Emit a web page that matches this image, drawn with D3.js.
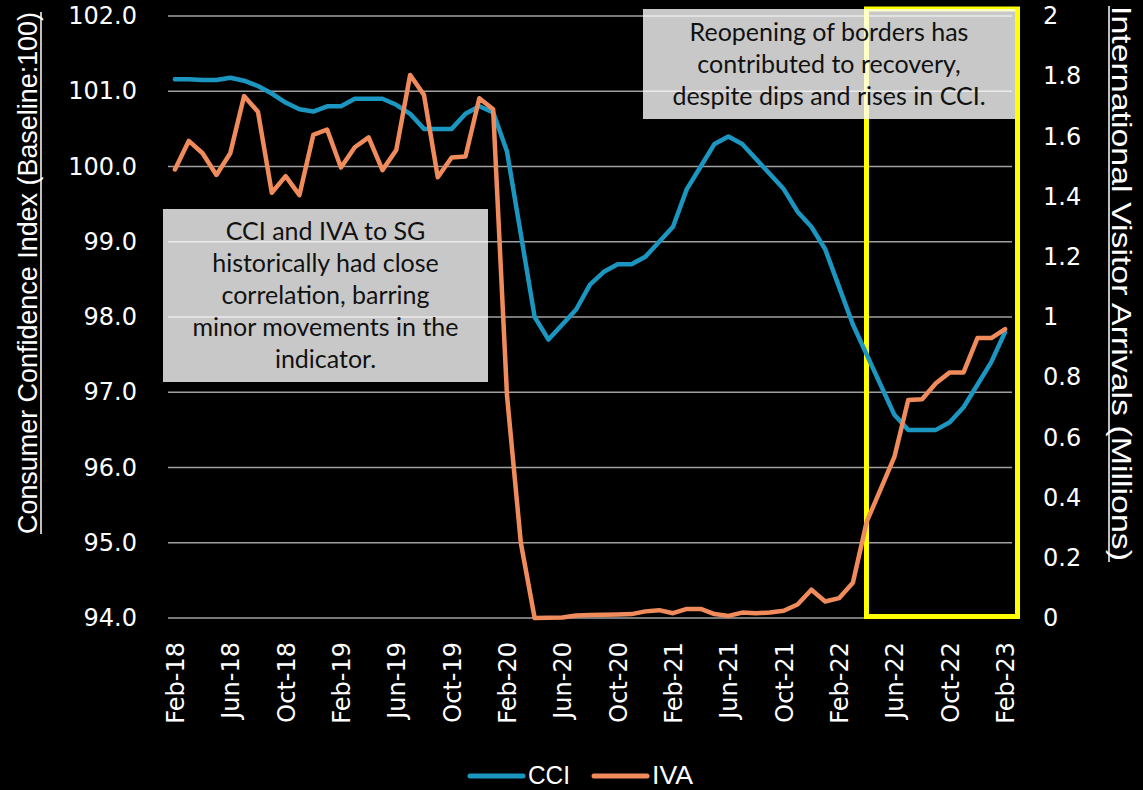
<!DOCTYPE html>
<html>
<head>
<meta charset="utf-8">
<script src="https://cdn.jsdelivr.net/npm/d3@7"></script>
<style>
  body { margin: 0; background: #000; }
  svg { display: block; }
</style>
</head>
<body>
<svg id="chart" width="1143" height="790"></svg>
<script>
// months Feb-18 .. Feb-23, one point per month
var months = d3.timeMonth.range(new Date(2018, 1, 1), new Date(2023, 2, 1));
var fmt_month = d3.timeFormat('%b-%y');
var month_labels = months.map(fmt_month);

// Consumer Confidence Index (left axis)
var cci = [101.16, 101.16, 101.15, 101.15, 101.18, 101.14, 101.07, 100.97, 100.85, 100.76,
           100.73, 100.80, 100.80, 100.90, 100.90, 100.90, 100.82, 100.70, 100.50, 100.50,
           100.50, 100.70, 100.80, 100.72, 100.20, 99.10, 98.00, 97.70, 97.90, 98.10,
           98.43, 98.60, 98.70, 98.70, 98.80, 99.00, 99.20, 99.70, 100.00, 100.30,
           100.40, 100.30, 100.10, 99.90, 99.70, 99.40, 99.20, 98.90, 98.40, 97.90,
           97.50, 97.10, 96.70, 96.50, 96.50, 96.50, 96.60, 96.80, 97.10, 97.40,
           97.80];

// International Visitor Arrivals, millions (right axis)
var iva = [1.490, 1.585, 1.544, 1.472, 1.544, 1.734, 1.682, 1.413, 1.468, 1.405,
           1.605, 1.623, 1.497, 1.564, 1.597, 1.488, 1.555, 1.804, 1.738, 1.464,
           1.530, 1.533, 1.727, 1.690, 0.740, 0.250, 0.000, 0.001, 0.002, 0.008,
           0.010, 0.011, 0.012, 0.013, 0.022, 0.026, 0.016, 0.030, 0.030, 0.013,
           0.007, 0.018, 0.016, 0.018, 0.024, 0.045, 0.094, 0.055, 0.066, 0.117,
           0.320, 0.427, 0.535, 0.724, 0.727, 0.780, 0.816, 0.816, 0.930, 0.930,
           0.960];

var left_ticks = [94, 95, 96, 97, 98, 99, 100, 101, 102];
var right_ticks = [0, 0.2, 0.4, 0.6, 0.8, 1, 1.2, 1.4, 1.6, 1.8, 2];
var x_tick_labels = month_labels.filter(function(d, i) { return i % 4 == 0; });

var note_left = ['CCI and IVA to SG', 'historically had close', 'correlation, barring',
                 'minor movements in the', 'indicator.'];
var note_right = ['Reopening of borders has', 'contributed to recovery,',
                  'despite dips and rises in CCI.'];

var CCI_COLOR = '#1b96c0';
var IVA_COLOR = '#f08b5c';

var svg = d3.select('#chart');
svg.append('rect').attr('width', 1143).attr('height', 790).attr('fill', '#000');

var x = d3.scalePoint().domain(month_labels).range([168, 1012]).padding(0.5);
var y_left = d3.scaleLinear().domain([94, 102]).range([618, 16]);
var y_right = d3.scaleLinear().domain([0, 2]).range([618, 16]);

// gridlines
svg.append('g').selectAll('line')
    .data(left_ticks)
    .enter().append('line')
    .attr('x1', 168).attr('x2', 1012)
    .attr('y1', function(d) { return y_left(d); })
    .attr('y2', function(d) { return y_left(d); })
    .attr('stroke', '#a0a0a0')
    .attr('stroke-width', 1.5);

// left axis
var left_axis = svg.append('g')
    .attr('transform', 'translate(140,0)')
    .call(d3.axisLeft(y_left).tickValues(left_ticks).tickSize(0).tickPadding(3).tickFormat(d3.format('.1f')));
left_axis.select('.domain').remove();
left_axis.selectAll('text')
    .attr('fill', '#fff')
    .style('font-family', 'DejaVu Sans')
    .style('font-size', '24px');

// right axis
var right_axis = svg.append('g')
    .attr('transform', 'translate(1040,0)')
    .call(d3.axisRight(y_right).tickValues(right_ticks).tickSize(0).tickPadding(3).tickFormat(d3.format('~g')));
right_axis.select('.domain').remove();
right_axis.selectAll('text')
    .attr('fill', '#fff')
    .style('font-family', 'DejaVu Sans')
    .style('font-size', '24px');

// bottom axis
var bottom_axis = svg.append('g')
    .attr('transform', 'translate(0,618)')
    .call(d3.axisBottom(x).tickValues(x_tick_labels).tickSize(0));
bottom_axis.select('.domain').remove();
bottom_axis.selectAll('text')
    .attr('fill', '#fff')
    .style('font-family', 'DejaVu Sans')
    .style('font-size', '24px')
    .attr('text-anchor', 'end')
    .attr('transform', 'rotate(-90)')
    .attr('x', -24)
    .attr('y', 0)
    .attr('dy', '0.35em');

// axis titles
var left_title = svg.append('g').attr('transform', 'translate(37,534) rotate(-90)');
left_title.append('text')
    .attr('x', 0).attr('y', 0)
    .attr('textLength', 522)
    .attr('lengthAdjust', 'spacingAndGlyphs')
    .attr('fill', '#fff')
    .style('font-family', 'Liberation Sans Narrow, Liberation Sans, sans-serif')
    .style('font-size', '27px')
    .text('Consumer Confidence Index (Baseline:100)');
left_title.append('line')
    .attr('x1', 0).attr('x2', 522).attr('y1', 4).attr('y2', 4)
    .attr('stroke', '#fff').attr('stroke-width', 1.5);

var right_title = svg.append('g').attr('transform', 'translate(1112,6) rotate(90)');
right_title.append('text')
    .attr('x', 0).attr('y', 0)
    .attr('textLength', 555)
    .attr('lengthAdjust', 'spacingAndGlyphs')
    .attr('fill', '#fff')
    .style('font-family', 'Liberation Sans Narrow, Liberation Sans, sans-serif')
    .style('font-size', '28px')
    .text('International Visitor Arrivals (Millions)');
right_title.append('line')
    .attr('x1', 0).attr('x2', 556).attr('y1', 3).attr('y2', 3)
    .attr('stroke', '#fff').attr('stroke-width', 1.5);

// highlight box
svg.append('rect')
    .attr('x', 866.5).attr('y', 9)
    .attr('width', 151).attr('height', 607.5)
    .attr('fill', 'none')
    .attr('stroke', '#ffff00')
    .attr('stroke-width', 5);

// lines
var line_cci = d3.line()
    .x(function(d, i) { return x(month_labels[i]); })
    .y(function(d) { return y_left(d); });
var line_iva = d3.line()
    .x(function(d, i) { return x(month_labels[i]); })
    .y(function(d) { return y_right(d); });

svg.append('path')
    .datum(cci)
    .attr('d', line_cci)
    .attr('fill', 'none')
    .attr('stroke', CCI_COLOR)
    .attr('stroke-width', 4.5)
    .attr('stroke-linejoin', 'round')
    .attr('stroke-linecap', 'round');

svg.append('path')
    .datum(iva)
    .attr('d', line_iva)
    .attr('fill', 'none')
    .attr('stroke', IVA_COLOR)
    .attr('stroke-width', 4.5)
    .attr('stroke-linejoin', 'round')
    .attr('stroke-linecap', 'round');

// annotation boxes
var add_note = function(lines, bx, by, bw, bh, first_base, step) {
    var g = svg.append('g');
    g.append('rect')
        .attr('x', bx).attr('y', by)
        .attr('width', bw).attr('height', bh)
        .attr('fill', '#fff')
        .attr('fill-opacity', 0.785);
    g.selectAll('text')
        .data(lines)
        .enter().append('text')
        .attr('x', bx + bw / 2)
        .attr('y', function(d, i) { return first_base + i * step; })
        .attr('text-anchor', 'middle')
        .attr('fill', '#111')
        .style('font-family', 'Lato, sans-serif')
        .style('font-size', '25px')
        .text(function(d) { return d; });
};
add_note(note_left, 163, 209, 325, 173, 240, 32);
add_note(note_right, 643, 9, 372, 110, 41, 32);

// legend
var legend_items = [
    {name: 'CCI', color: CCI_COLOR, x: 468, w: 42},
    {name: 'IVA', color: IVA_COLOR, x: 592, w: 41}
];
var legend = svg.append('g');
legend_items.forEach(function(item) {
    legend.append('line')
        .attr('x1', item.x + 2).attr('x2', item.x + 55)
        .attr('y1', 776).attr('y2', 776)
        .attr('stroke', item.color)
        .attr('stroke-width', 5)
        .attr('stroke-linecap', 'round');
    legend.append('text')
        .attr('x', item.x + 60)
        .attr('y', 784)
        .attr('textLength', item.w)
        .attr('lengthAdjust', 'spacingAndGlyphs')
        .attr('fill', '#fff')
        .style('font-family', 'Liberation Sans Narrow, Liberation Sans, sans-serif')
        .style('font-size', '26px')
        .text(item.name);
});
</script>
</body>
</html>
